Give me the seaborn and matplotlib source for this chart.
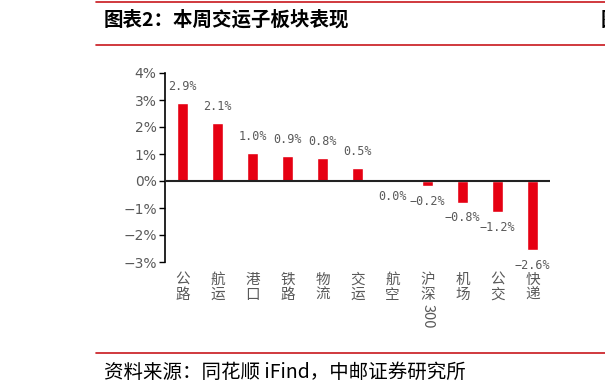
import matplotlib
matplotlib.use("Agg")
import matplotlib.pyplot as plt
import seaborn as sns
import pandas as pd
from matplotlib.lines import Line2D

# datos
categorias = ['公路', '航运', '港口', '铁路', '物流', '交运', '航空', '沪深300', '机场', '公交', '快递']
etiquetas = ['公\n路', '航\n运', '港\n口', '铁\n路', '物\n流', '交\n运', '航\n空', '沪\n深', '机\n场', '公\n交', '快\n递']
valores = [2.90, 2.14, 1.04, 0.91, 0.84, 0.49, 0.0, -0.19, -0.80, -1.16, -2.56]
ticks_y = [-3, -2, -1, 0, 1, 2, 3, 4]

titulo = '图表2：本周交运子板块表现'
fuente = '资料来源：同花顺 iFind，中邮证券研究所'

rojo = '#E60012'
gris = '#595959'
linea_roja = '#C8161D'

sns.set_style('white')
plt.rcParams['font.family'] = ['Noto Sans CJK SC', 'DejaVu Sans']
plt.rcParams['axes.unicode_minus'] = True

df = pd.DataFrame({'cat': categorias, 'val': valores})

fig = plt.figure(figsize=(6.05, 3.92), dpi=100)
ax = fig.add_axes([165 / 605, 1 - 262 / 392, 385 / 605, 189 / 392])

sns.barplot(data=df, x='cat', y='val', color=rojo, width=0.34, saturation=1, ax=ax)

ax.set_xlim(-0.5, len(categorias) - 0.5)
ax.set_ylim(-3, 4)
ax.set_yticks(ticks_y)
ax.set_yticklabels([f'{t}%'.replace('-', '\u2212') for t in ticks_y], color=gris, fontsize=10,
                   family='DejaVu Sans')
ax.set_xticks(range(len(categorias)))
ax.set_xticklabels(etiquetas, color=gris, fontsize=10.5, linespacing=1.05, va='top')
ax.tick_params(axis='x', length=0, pad=8)
ax.tick_params(axis='y', length=4, width=1, color='black', direction='out', left=True, pad=2)
ax.set_xlabel('')
ax.set_ylabel('')

for lado in ['top', 'right', 'bottom']:
    ax.spines[lado].set_visible(False)
ax.spines['left'].set_color('black')
ax.spines['left'].set_linewidth(1.2)
ax.axhline(0, color='#222222', linewidth=1.5, zorder=3)

# "300" girado bajo 沪深
ax.annotate('300', xy=(7, -3), xytext=(0, -30), textcoords='offset points',
            rotation=-90, ha='center', va='top', color=gris, fontsize=10.5,
            family='Noto Sans CJK SC', annotation_clip=False)

# etiquetas de valor
for i, v in enumerate(valores):
    txt = f'{v:.1f}%'
    if v > 0:
        ax.annotate(txt, xy=(i, v), xytext=(0, 12), textcoords='offset points',
                    ha='center', va='center', color=gris, fontsize=8.5, family='DejaVu Sans Mono')
    else:
        ax.annotate(txt.replace('-', '\u2212'), xy=(i, v), xytext=(0, -11), textcoords='offset points',
                    ha='center', va='center', color=gris, fontsize=8.5, family='DejaVu Sans Mono')

# cabecera y pie
x0 = 96 / 605
for yy in [1 - 1.5 / 392, 1 - 45 / 392, 1 - 353 / 392]:
    fig.add_artist(Line2D([x0, 1], [yy, yy], color=linea_roja, linewidth=1.2))

fig.text(104 / 605, 1 - 20 / 392, titulo, fontsize=14, fontweight='bold', color='black',
         ha='left', va='center')
fig.text(104 / 605, 1 - 372 / 392, fuente, fontsize=14, color='black', ha='left', va='center')
fig.text(601 / 605, 1 - 20 / 392, '图', fontsize=14, fontweight='bold', color='black',
         ha='left', va='center')

fig.savefig('out.png', dpi=100)
